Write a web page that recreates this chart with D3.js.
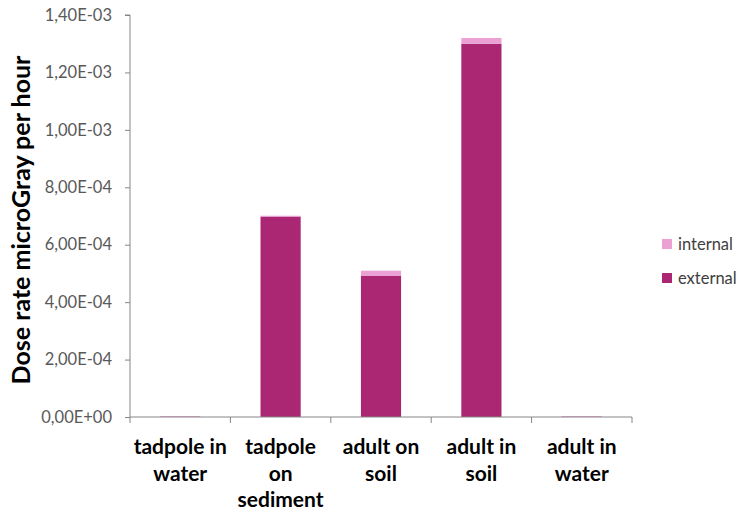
<!DOCTYPE html>
<html>
<head>
<meta charset="utf-8">
<script src="https://cdn.jsdelivr.net/npm/d3@7"></script>
<style>
  html, body { margin: 0; padding: 0; background: #ffffff; }
  svg { display: block; }
</style>
</head>
<body>
<svg id="chart" width="744" height="512"></svg>
<script>
// Dose rate per scenario, split into external and internal contributions
const categories = ["tadpole in water", "tadpole on sediment", "adult on soil", "adult in soil", "adult in water"];
const categoryLines = [["tadpole in", "water"], ["tadpole", "on", "sediment"], ["adult on", "soil"], ["adult in", "soil"], ["adult in", "water"]];
const external = [0.5e-6, 6.98e-4, 4.91e-4, 1.300e-3, 0.5e-6];
const internal = [3e-6, 3e-6, 1.85e-5, 2.0e-5, 3e-6];
const seriesNames = ["external", "internal"];
const legendOrder = ["internal", "external"];
const yTickValues = [0, 2e-4, 4e-4, 6e-4, 8e-4, 1.0e-3, 1.2e-3, 1.4e-3];
const yTickLabels = ["0,00E+00", "2,00E-04", "4,00E-04", "6,00E-04", "8,00E-04", "1,00E-03", "1,20E-03", "1,40E-03"];

const colors = { external: "#ab2673", internal: "#eba1d4" };

const svg = d3.select("#chart");
const plotLeft = 130, plotRight = 632, plotTop = 15, plotBottom = 417;

const rows = categories.map((c, i) => ({ category: c, external: external[i], internal: internal[i] }));

const x = d3.scaleBand().domain(categories).range([plotLeft, plotRight]).paddingInner(0.6).paddingOuter(0.3);
const y = d3.scaleLinear().domain([0, 1.4e-3]).range([plotBottom, plotTop]);

const stacked = d3.stack().keys(seriesNames)(rows);

// Stacked bars
svg.append("g").selectAll("g")
  .data(stacked)
  .join("g")
  .attr("fill", d => colors[d.key])
  .selectAll("rect")
  .data(d => d)
  .join("rect")
  .attr("x", d => x(d.data.category))
  .attr("width", x.bandwidth())
  .attr("y", d => y(d[1]))
  .attr("height", d => y(d[0]) - y(d[1]));

// Y axis
const yAxis = d3.axisLeft(y)
  .tickValues(yTickValues)
  .tickFormat((d, i) => yTickLabels[i])
  .tickSize(5)
  .tickPadding(13);
const gy = svg.append("g").attr("transform", `translate(${plotLeft},0)`).call(yAxis);
gy.select(".domain").attr("stroke", "#868686").attr("d", `M-5,${plotTop}H0V${plotBottom}`);
gy.selectAll(".tick line").attr("stroke", "#868686");
gy.selectAll(".tick text")
  .attr("fill", "#595959")
  .style("font-family", "Lato, 'Open Sans', sans-serif")
  .style("font-size", "16.5px");

// X axis: baseline plus boundary ticks between categories
const gx = svg.append("g");
gx.append("line")
  .attr("x1", plotLeft).attr("x2", plotRight)
  .attr("y1", plotBottom).attr("y2", plotBottom)
  .attr("stroke", "#868686");
const step = x.step();
const bounds = d3.range(categories.length + 1).map(i => plotLeft + i * step);
gx.selectAll("line.tick")
  .data(bounds)
  .join("line")
  .attr("class", "tick")
  .attr("x1", d => d).attr("x2", d => d)
  .attr("y1", plotBottom).attr("y2", plotBottom + 6)
  .attr("stroke", "#868686");

// Category labels
const labelG = svg.append("g")
  .style("font-family", "Lato, 'Open Sans', sans-serif")
  .style("font-weight", "bold")
  .style("font-size", "21px")
  .attr("fill", "#000000");
categories.forEach((c, i) => {
  const cx = x(c) + x.bandwidth() / 2;
  const t = labelG.append("text").attr("text-anchor", "middle");
  categoryLines[i].forEach((line, j) => {
    t.append("tspan").attr("x", cx).attr("y", 454 + j * 26.5).text(line);
  });
});

// Y axis title
svg.append("text")
  .attr("transform", "translate(30,220) rotate(-90)")
  .attr("text-anchor", "middle")
  .style("font-family", "Lato, 'Open Sans', sans-serif")
  .style("font-weight", "bold")
  .style("font-size", "25px")
  .attr("fill", "#000000")
  .text("Dose rate microGray per hour");

// Legend
const legend = svg.append("g")
  .style("font-family", "Lato, 'Open Sans', sans-serif")
  .style("font-size", "16.5px");
legendOrder.forEach((k, i) => {
  const ly = 239 + i * 34;
  legend.append("rect")
    .attr("x", 662).attr("y", ly)
    .attr("width", 10).attr("height", 10)
    .attr("fill", colors[k]);
  legend.append("text")
    .attr("x", 678).attr("y", ly + 10.5)
    .attr("fill", "#404040")
    .text(k);
});
</script>
</body>
</html>
